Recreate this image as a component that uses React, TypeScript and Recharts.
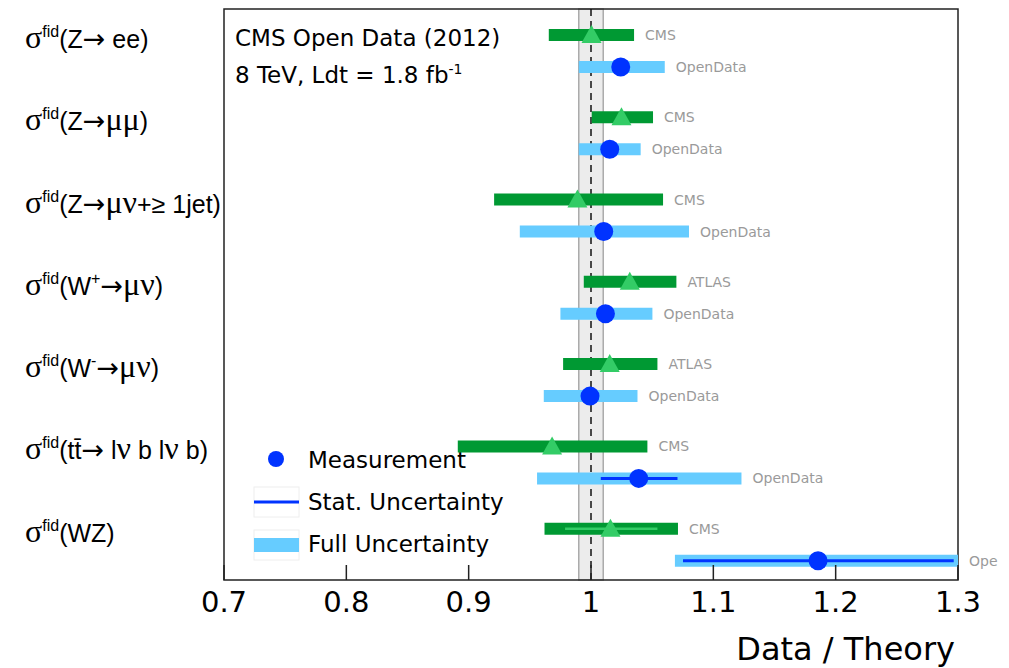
import { ScatterChart, Scatter, XAxis, YAxis, ErrorBar, ReferenceArea, ReferenceLine } from "recharts";

// process labels, one per row (segments: g = greek, sup = superscript, a = arrow, n = normal)
const processLabels: [string, string][][] = [
  [["σ", "g"], ["fid", "sup"], ["(Z", "n"], ["→", "a"], [" ee)", "n"]],
  [["σ", "g"], ["fid", "sup"], ["(Z", "n"], ["→", "a"], ["μμ", "g"], [")", "n"]],
  [["σ", "g"], ["fid", "sup"], ["(Z", "n"], ["→", "a"], ["μν", "g"], ["+≥ 1jet)", "n"]],
  [["σ", "g"], ["fid", "sup"], ["(W", "n"], ["+", "sup"], ["→", "a"], ["μν", "g"], [")", "n"]],
  [["σ", "g"], ["fid", "sup"], ["(W", "n"], ["-", "sup"], ["→", "a"], ["μν", "g"], [")", "n"]],
  [["σ", "g"], ["fid", "sup"], ["(tt̄", "n"], ["→", "a"], [" l", "n"], ["ν", "g"], [" b l", "n"], ["ν", "g"], [" b)", "n"]],
  [["σ", "g"], ["fid", "sup"], ["(WZ)", "n"]],
];

// published reference measurements
const refExperiment = ["CMS", "CMS", "CMS", "ATLAS", "ATLAS", "CMS", "CMS"];
const refValue = [1.0004, 1.0249, 0.9889, 1.0317, 1.0153, 0.9682, 1.0159];
const refLow = [0.9655, 1.0006, 0.9208, 0.9941, 0.9772, 0.8911, 0.962];
const refHigh = [1.0352, 1.0507, 1.0589, 1.0698, 1.0543, 1.0461, 1.0711];
const refStatLow = [null, null, null, null, null, null, 0.9788];
const refStatHigh = [null, null, null, null, null, null, 1.0543];

// open data measurements
const odName = "OpenData";
const odValue = [1.0243, 1.0153, 1.0104, 1.0118, 0.9992, 1.039, 1.1856];
const odLow = [0.99, 0.99, 0.9418, 0.975, 0.9614, 0.9559, 1.0686];
const odHigh = [1.0603, 1.0406, 1.0801, 1.0502, 1.038, 1.123, 1.3];
const odStatLow = [null, null, null, null, null, 1.008, 1.0752];
const odStatHigh = [null, null, null, null, null, 1.0707, 1.2965];

// theory band around 1
const theoryLow = 0.99;
const theoryHigh = 1.01;

const xTicks = [0.7, 0.8, 0.9, 1.0, 1.1, 1.2, 1.3];

const Y_MAX = 6.94;
const REF_OFF = 0.316;
const OD_OFF = 0.705;

const GREEN = "#009933";
const GREEN_LIGHT = "#33cc66";
const BLUE_LIGHT = "#66ccff";
const BLUE = "#0033ff";
const SANS = "DejaVu Sans";
const LSANS = "Liberation Sans";
const SERIF = "Liberation Serif";

const rowIdx = refValue.map((_, i) => i);

const refFull = rowIdx.map((i) => ({ x: refValue[i], y: i + REF_OFF, err: [refValue[i] - refLow[i], refHigh[i] - refValue[i]] }));
const refStat = rowIdx
  .filter((i) => refStatLow[i] != null)
  .map((i) => ({ x: refValue[i], y: i + REF_OFF, err: [refValue[i] - (refStatLow[i] as number), (refStatHigh[i] as number) - refValue[i]] }));
const odFull = rowIdx.map((i) => ({ x: odValue[i], y: i + OD_OFF, err: [odValue[i] - odLow[i], odHigh[i] - odValue[i]] }));
const odStat = rowIdx
  .filter((i) => odStatLow[i] != null)
  .map((i) => ({ x: odValue[i], y: i + OD_OFF, err: [odValue[i] - (odStatLow[i] as number), (odStatHigh[i] as number) - odValue[i]] }));
const nameTags = [
  ...rowIdx.map((i) => ({ x: refHigh[i], y: i + REF_OFF, name: refExperiment[i] })),
  ...rowIdx.map((i) => ({ x: odHigh[i], y: i + OD_OFF, name: odName })),
];

const Empty = () => <g />;

const Triangle = (p: any) => (
  <polygon points={`${p.cx},${p.cy - 10} ${p.cx - 10},${p.cy + 8} ${p.cx + 10},${p.cy + 8}`} fill={GREEN_LIGHT} />
);

const Dot = (p: any) => <circle cx={p.cx} cy={p.cy} r={9.5} fill={BLUE} />;

const NameTag = (p: any) => (
  <text x={p.cx + 11} y={p.cy + 5} fontSize={14} fill="#9a9a9a" fontFamily={SANS}>
    {p.payload.name}
  </text>
);

function RowLabel({ y, payload }: any) {
  const segs = processLabels[Math.floor(payload.value)];
  let raised = false;
  return (
    <text x={25} y={y - 3} fill="#000" fontFamily={LSANS} fontSize={25}>
      {segs.map(([t, k], j) => {
        let dy = 0;
        if (k === "sup" && !raised) { dy = -11; raised = true; }
        else if (k !== "sup" && raised) { dy = 11; raised = false; }
        const fam = k === "g" ? SERIF : k === "a" ? SANS : LSANS;
        const fs = k === "sup" ? 16 : k === "g" ? 32 : k === "a" ? 27 : 25;
        return (
          <tspan key={j} dy={dy} fontFamily={fam} fontSize={fs}>{t}</tspan>
        );
      })}
    </text>
  );
}

function XTick({ x, y, payload }: any) {
  return (
    <g>
      <line x1={x} y1={y} x2={x} y2={y - 15} stroke="#222" strokeWidth={1.5} />
      <text x={x} y={y + 32} textAnchor="middle" fontSize={29} fontFamily={SANS} fill="#000">
        {String(payload.value)}
      </text>
    </g>
  );
}

export default function App() {
  return (
    <div style={{ position: "absolute", left: 0, top: 0, width: 998, height: 668, overflow: "hidden", background: "#fff" }}>
      <ScatterChart width={998} height={668} margin={{ top: 9, right: 40, bottom: 38, left: 25 }}>
        <XAxis
          type="number"
          dataKey="x"
          domain={[0.7, 1.3]}
          ticks={xTicks}
          height={50}
          axisLine={false}
          tickLine={false}
          tickSize={0}
          tickMargin={0}
          tick={<XTick />}
          interval={0}
        />
        <YAxis
          type="number"
          dataKey="y"
          domain={[0, Y_MAX]}
          reversed
          ticks={rowIdx.map((i) => i + 0.51)}
          interval={0}
          width={199}
          axisLine={false}
          tickLine={false}
          tick={<RowLabel />}
        />
        <ReferenceArea x1={theoryLow} x2={theoryHigh} y1={0} y2={Y_MAX} fill="#ececec" fillOpacity={1} stroke="#ababab" strokeWidth={1.5} />
        <ReferenceLine x={1} stroke="#111" strokeWidth={1.5} strokeDasharray="7 5" />

        <Scatter data={refFull} shape={Empty} isAnimationActive={false}>
          <ErrorBar dataKey="err" direction="x" width={0} strokeWidth={12} stroke={GREEN} isAnimationActive={false} />
        </Scatter>
        <Scatter data={refStat} shape={Empty} isAnimationActive={false}>
          <ErrorBar dataKey="err" direction="x" width={0} strokeWidth={2.5} stroke={GREEN_LIGHT} isAnimationActive={false} />
        </Scatter>
        <Scatter data={refFull} shape={Triangle} isAnimationActive={false} />

        <Scatter data={odFull} shape={Empty} isAnimationActive={false}>
          <ErrorBar dataKey="err" direction="x" width={0} strokeWidth={12} stroke={BLUE_LIGHT} isAnimationActive={false} />
        </Scatter>
        <Scatter data={odStat} shape={Empty} isAnimationActive={false}>
          <ErrorBar dataKey="err" direction="x" width={0} strokeWidth={3} stroke={BLUE} isAnimationActive={false} />
        </Scatter>
        <Scatter data={odFull} shape={Dot} isAnimationActive={false} />

        <Scatter data={nameTags} shape={NameTag} isAnimationActive={false} />

        <ReferenceArea x1={0.7} x2={1.3} y1={0} y2={Y_MAX} fill="none" stroke="#222" strokeWidth={1.5} />

        {/* header */}
        <text x={235} y={46} fontSize={23} fontFamily={SANS} fill="#000">CMS Open Data (2012)</text>
        <text x={235} y={83} fontSize={23} fontFamily={SANS} fill="#000">
          8 TeV, Ldt = 1.8 fb<tspan dy={-9} fontSize={14}>-1</tspan>
        </text>

        {/* legend */}
        <circle cx={276} cy={459} r={8} fill={BLUE} />
        <text x={308} y={468} fontSize={23} fontFamily={SANS} fill="#000">Measurement</text>
        <rect x={254} y={487} width={45} height={30} fill="#fff" stroke="#eeeeee" />
        <line x1={254} x2={299} y1={502} y2={502} stroke={BLUE} strokeWidth={3} />
        <text x={308} y={510} fontSize={23} fontFamily={SANS} fill="#000">Stat. Uncertainty</text>
        <rect x={254} y={530} width={45} height={30} fill="#fff" stroke="#eeeeee" />
        <rect x={254} y={538} width={45} height={14} fill={BLUE_LIGHT} />
        <text x={308} y={552} fontSize={23} fontFamily={SANS} fill="#000">Full Uncertainty</text>

        {/* axis title */}
        <text x={955} y={660} textAnchor="end" fontSize={32} fontFamily={SANS} fill="#000">Data / Theory</text>
      </ScatterChart>
    </div>
  );
}
